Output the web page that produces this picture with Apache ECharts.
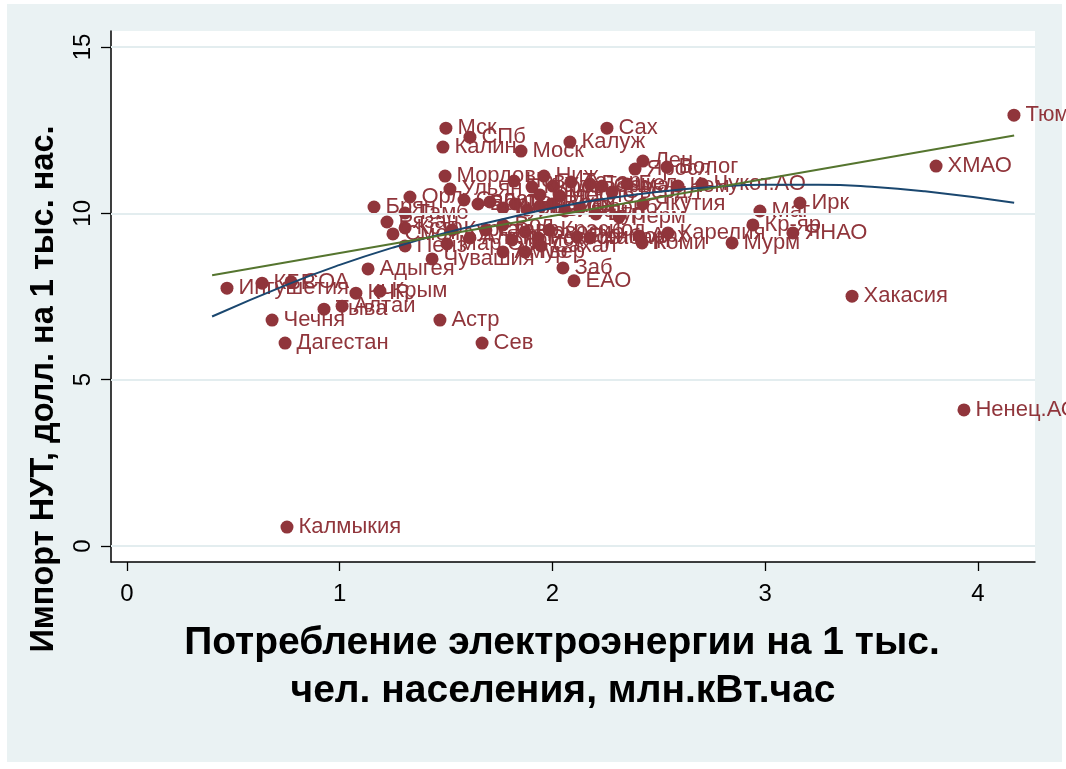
<!DOCTYPE html>
<html>
<head>
<meta charset="utf-8">
<script src="https://cdn.jsdelivr.net/npm/echarts@6/dist/echarts.min.js"></script>
<style>html,body{margin:0;padding:0;background:#fff}#c{width:1066px;height:769px}</style>
</head>
<body>
<div id="c"></div>
<script>
// ---- data ----
const regionNames = [
 'Тюм','ХМАО','Ненец.АО','Хакасия','ЯНАО','Ирк','Маг','Кр-яр','Мурм','Чукот.АО',
 'Карелия','Арх','Коми','Перм','Якутия','Лен','Яросл','Волог','Бел','Кем',
 'Сах','Калуж','Моск','Мск','СПб','Калин','Мордов','Ульян','Орл','Брян',
 'Тамб','Рязан','Смол','Кстр','Пенз','Чувашия','Адыгея','Крым','КЧР','Алтай',
 'Тыва','СОА','КБР','Ингушетия','Чечня','Дагестан','Калмыкия','Астр','Сев','Заб',
 'ЕАО','Ниж','Нов','Киров','Удм','Татар','Башк','Самар','Свердл','Челяб',
 'Омск','Сарат','Вор','Липец','Курск','Тул','Новг','Псков','Влад','Иван',
 'Оренб','Бур','Курган','Мар.Эл','Алт.кр','Ставр','Вол','Томск','Новосиб','Ростов',
 'Краснод','Примор','Хабар','Амур','Твер','Сахал'
];
const elecUse = [
 4.169,3.803,3.934,3.408,3.130,3.163,2.975,2.942,2.844,2.703,
 2.543,2.407,2.421,2.313,2.425,2.425,2.388,2.538,2.350,2.590,
 2.256,2.082,1.852,1.499,1.612,1.485,1.495,1.518,1.330,1.161,
 1.307,1.222,1.250,1.307,1.307,1.434,1.133,1.189,1.076,1.011,
 0.926,0.771,0.635,0.470,0.682,0.743,0.752,1.471,1.669,2.049,
 2.101,1.960,1.819,1.904,2.002,2.087,2.176,2.233,2.280,2.035,
 1.941,1.584,1.650,1.706,1.767,1.824,1.880,1.941,1.998,2.059,
 2.129,2.204,1.528,1.504,1.612,1.687,1.767,1.810,1.871,1.932,
 1.984,2.115,2.176,1.767,1.871,1.946
];
const importNut = [
 12.95,11.42,4.09,7.51,9.41,10.31,10.07,9.65,9.11,10.88,
 9.41,9.32,9.11,9.89,10.28,11.57,11.33,11.39,10.88,10.82,
 12.56,12.14,11.87,12.56,12.29,11.99,11.12,10.73,10.49,10.19,
 10.01,9.74,9.38,9.56,9.02,8.63,8.33,7.66,7.60,7.21,
 7.12,7.94,7.90,7.75,6.79,6.10,0.57,6.79,6.10,8.36,
 7.97,11.12,10.97,10.79,10.82,10.94,10.88,10.82,10.64,10.52,
 10.55,10.40,10.28,10.34,10.16,10.28,10.10,10.22,10.28,10.07,
 10.16,9.98,9.50,9.08,9.26,9.50,9.65,9.20,9.44,9.26,
 9.50,9.29,9.26,8.84,8.84,9.02
];
// linear fit line, endpoints
const linFitX = [0.40, 4.17];
const linFitY = [8.14, 12.34];
// quadratic fit curve, samples
const quadFitX = [0.40,0.75,1.00,1.25,1.50,1.75,2.00,2.25,2.50,2.75,3.00,3.25,3.50,3.75,4.17];
const quadFitY = [6.90,7.85,8.45,8.97,9.42,9.80,10.16,10.44,10.65,10.79,10.86,10.86,10.80,10.66,10.32];
// ticks
const xTicks = [0,1,2,3,4];
const yTicks = [0,5,10,15];
const xTitle1 = 'Потребление электроэнергии на 1 тыс.';
const xTitle2 = 'чел. населения, млн.кВт.час';
const yTitle = 'Импорт НУТ, долл. на 1 тыс. нас.';

const MAROON = '#90353b', NAVY = '#1a476f', GREEN = '#55752f', BG = '#eaf2f3', GRID = '#e3edef';
const FONT = '"Liberation Sans", Arial, Helvetica, sans-serif';

const scatterData = regionNames.map((n,i)=>({name:n, value:[elecUse[i], importNut[i]]}));
const linData = linFitX.map((x,i)=>[x, linFitY[i]]);
const quadData = quadFitX.map((x,i)=>[x, quadFitY[i]]);

const chart = echarts.init(document.getElementById('c'), null, {renderer:'canvas'});
chart.setOption({
  backgroundColor:'#ffffff',
  animation:false,
  textStyle:{fontFamily:FONT},
  graphic:[
    {type:'rect', z:-20, silent:true, shape:{x:7,y:4,width:1055,height:758}, style:{fill:BG}},
    {type:'rect', z:-19, silent:true, shape:{x:111,y:31,width:924,height:531}, style:{fill:'#ffffff'}},
    {type:'text', z:100, x:562, y:643, style:{text:xTitle1, font:'bold 39px '+FONT, fill:'#000', textAlign:'center', textVerticalAlign:'middle'}},
    {type:'text', z:100, x:563, y:691, style:{text:xTitle2, font:'bold 39px '+FONT, fill:'#000', textAlign:'center', textVerticalAlign:'middle'}},
    {type:'text', z:100, x:44, y:389, rotation:Math.PI/2, style:{text:yTitle, font:'bold 32.5px '+FONT, fill:'#000', textAlign:'center', textVerticalAlign:'middle'}}
  ],
  grid:{left:111, right:31, top:31, bottom:207, containLabel:false},
  xAxis:{
    type:'value', min:-0.0752, max:4.268,
    axisLine:{show:true, onZero:false, lineStyle:{color:'#000', width:1.5}},
    axisTick:{show:true, inside:false, length:9, customValues:xTicks, lineStyle:{color:'#000', width:1.3}},
    axisLabel:{show:true, customValues:xTicks, fontSize:24, color:'#000', margin:20, fontFamily:FONT},
    splitLine:{show:false}
  },
  yAxis:{
    type:'value', min:-0.48, max:15.48,
    axisLine:{show:true, onZero:false, lineStyle:{color:'#000', width:1.5}},
    axisTick:{show:true, inside:false, length:10, customValues:yTicks, lineStyle:{color:'#000', width:1.3}},
    axisLabel:{show:true, customValues:yTicks, rotate:90, fontSize:24, color:'#000', margin:16, fontFamily:FONT},
    splitLine:{show:false}
  },
  series:[
    {type:'line', data:[], z:1, silent:true,
     markLine:{silent:true, symbol:['none','none'], label:{show:false},
       lineStyle:{color:GRID, width:2, type:'solid'},
       data: yTicks.map(v=>({yAxis:v}))}},
    {type:'scatter', z:3, data:scatterData, symbol:'circle', symbolSize:13,
     itemStyle:{color:MAROON, opacity:1},
     label:{show:true, formatter:'{b}', position:'right', distance:5, color:MAROON, fontSize:22, fontFamily:FONT}},
    {type:'line', z:5, data:quadData, smooth:true, showSymbol:false, silent:true,
     lineStyle:{color:NAVY, width:2}},
    {type:'line', z:6, data:linData, showSymbol:false, silent:true,
     lineStyle:{color:GREEN, width:2}}
  ]
});
</script>
</body>
</html>
